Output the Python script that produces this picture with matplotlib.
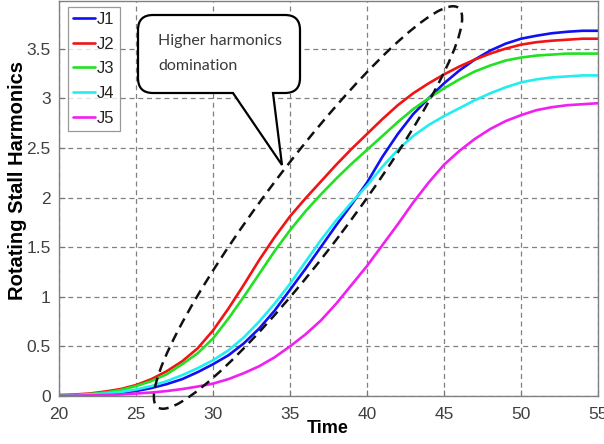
import numpy as np
import matplotlib
matplotlib.use('Agg')
import matplotlib.pyplot as plt
from matplotlib.patches import Ellipse, PathPatch
from matplotlib.path import Path
from matplotlib.transforms import IdentityTransform

# 时间轴和五条谐波曲线
time = list(range(20, 56))
J1 = [0.0, 0.005, 0.01, 0.02, 0.03, 0.05, 0.08, 0.12, 0.17, 0.24, 0.32, 0.41, 0.53, 0.68, 0.86, 1.07,
      1.28, 1.5, 1.72, 1.93, 2.15, 2.41, 2.64, 2.84, 3.0, 3.15, 3.28, 3.39, 3.48, 3.55, 3.6,
      3.63, 3.655, 3.67, 3.68, 3.68]
J2 = [0.01, 0.015, 0.025, 0.045, 0.07, 0.11, 0.17, 0.25, 0.35, 0.48, 0.66, 0.88, 1.12, 1.37, 1.6, 1.81,
      1.99, 2.16, 2.33, 2.49, 2.64, 2.79, 2.93, 3.05, 3.15, 3.24, 3.32, 3.39, 3.45, 3.5, 3.54,
      3.565, 3.58, 3.59, 3.6, 3.6]
J3 = [0.0, 0.01, 0.02, 0.035, 0.06, 0.1, 0.15, 0.22, 0.32, 0.43, 0.58, 0.78, 1.0, 1.23, 1.46, 1.67,
      1.86, 2.03, 2.19, 2.34, 2.48, 2.62, 2.76, 2.89, 3.0, 3.1, 3.19, 3.27, 3.33, 3.38, 3.41,
      3.43, 3.44, 3.45, 3.45, 3.45]
J4 = [0.0, 0.005, 0.015, 0.025, 0.04, 0.065, 0.1, 0.15, 0.21, 0.28, 0.36, 0.46, 0.59, 0.75, 0.93, 1.13,
      1.35, 1.57, 1.77, 1.95, 2.12, 2.31, 2.48, 2.62, 2.73, 2.82, 2.9, 2.98, 3.05, 3.11, 3.16,
      3.19, 3.21, 3.22, 3.23, 3.23]
J5 = [0.0, 0.003, 0.006, 0.01, 0.015, 0.025, 0.035, 0.05, 0.07, 0.095, 0.125, 0.17, 0.23, 0.3, 0.39, 0.5,
      0.62, 0.76, 0.93, 1.12, 1.31, 1.52, 1.73, 1.95, 2.15, 2.33, 2.47, 2.59, 2.69, 2.77, 2.83,
      2.88, 2.91, 2.93, 2.94, 2.95]
labels = ['J1', 'J2', 'J3', 'J4', 'J5']
colors = ['#1010f0', '#f01414', '#22e022', '#22eef0', '#f020f0']

xticks = [20, 25, 30, 35, 40, 45, 50, 55]
yticks = [0, 0.5, 1, 1.5, 2, 2.5, 3, 3.5]
yticklabels = ['0', '0.5', '1', '1.5', '2', '2.5', '3', '3.5']
callout_text = 'Higher harmonics\ndomination'

narrow = ['Liberation Sans Narrow', 'Liberation Sans', 'DejaVu Sans']
plt.rcParams['font.family'] = narrow

W, H = 604, 444
fig = plt.figure(figsize=(W / 100, H / 100), dpi=100)
ax = fig.add_axes([59 / W, 48 / H, 539 / W, 395 / H])

for ys, lab, c in zip([J1, J2, J3, J4, J5], labels, colors):
    ax.plot(time, ys, color=c, lw=1.9, label=lab, solid_capstyle='round',
            solid_joinstyle='round')

ax.set_xlim(20, 55)
ax.set_ylim(0, 3.98)
ax.set_xticks(xticks)
ax.set_yticks(yticks)
ax.set_yticklabels(yticklabels)
ax.grid(True, color='#808080', linestyle=(0, (4, 3)), linewidth=0.9)
ax.tick_params(direction='in', length=4, color='#777777', labelcolor='#404040',
               labelsize=12.5)
ax.tick_params(axis='x', pad=8)
ax.tick_params(axis='y', pad=6)
for s in ax.spines.values():
    s.set_color('#808080')
    s.set_linewidth(1.0)

ax.set_xlabel('Time', fontsize=13, fontweight='bold', color='black')
ax.xaxis.set_label_coords(0.499, -0.062)
ax.set_ylabel('Rotating Stall Harmonics', fontsize=14.5, fontweight='bold', color='black',
              family=['Liberation Sans', 'DejaVu Sans'])
ax.yaxis.set_label_coords(-0.059, 0.545)

leg = ax.legend(loc='upper left', bbox_to_anchor=(0.0167, 0.985), borderaxespad=0,
                fontsize=12, frameon=True, fancybox=False, handlelength=1.3,
                handletextpad=0.15, labelspacing=0.58, borderpad=0.3)
leg.get_frame().set_edgecolor('#808080')
leg.get_frame().set_linewidth(0.9)
for t in leg.get_texts():
    t.set_color('#222222')

# 虚线椭圆（像素坐标）
ell = Ellipse((308, H - 207.5), width=500, height=84, angle=53,
              transform=IdentityTransform(), fill=False, edgecolor='#111111',
              linewidth=1.8, linestyle=(0, (4, 2.5)), zorder=5)
fig.add_artist(ell)

# 对话框
L, R, T, B, r = 138, 300, 15, 93, 15
pts = [(L + r, T), (R - r, T), (R, T), (R, T + r), (R, B - r), (R, B), (R - r, B),
       (273, B), (282, 165), (233, B), (L + r, B), (L, B), (L, B - r), (L, T + r),
       (L, T), (L + r, T), (L + r, T)]
codes = [Path.MOVETO, Path.LINETO, Path.CURVE3, Path.CURVE3, Path.LINETO, Path.CURVE3,
         Path.CURVE3, Path.LINETO, Path.LINETO, Path.LINETO, Path.LINETO, Path.CURVE3,
         Path.CURVE3, Path.LINETO, Path.CURVE3, Path.CURVE3, Path.CLOSEPOLY]
verts = [(x, H - y) for x, y in pts]
bubble = PathPatch(Path(verts, codes), transform=IdentityTransform(), facecolor='white',
                   edgecolor='black', linewidth=1.6, zorder=6)
fig.add_artist(bubble)
fig.text(158 / W, 1 - 54 / H, callout_text, fontsize=11.5, color='#3a3a3a',
         family=['Lato', 'DejaVu Sans'], va='center', ha='left', linespacing=2.0, zorder=7)

fig.savefig('out.png', dpi=100)
